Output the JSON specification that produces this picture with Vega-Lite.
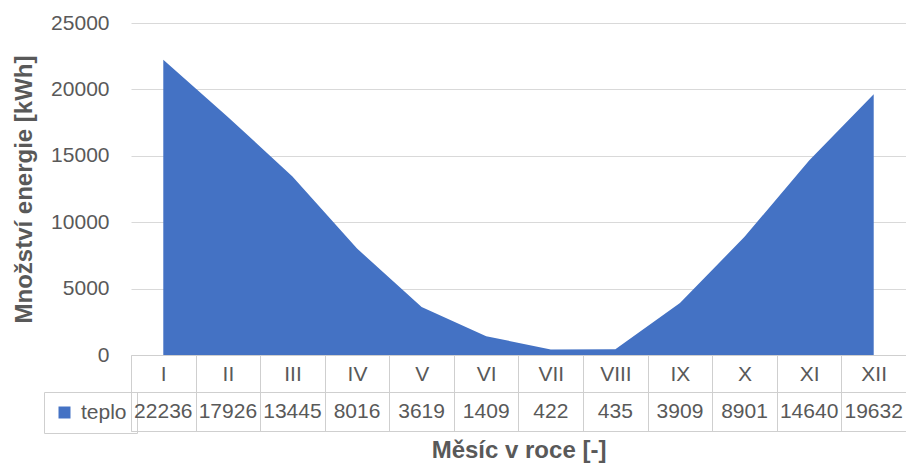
{
  "$schema": "https://vega.github.io/schema/vega-lite/v6.json",
  "padding": {"left": 12, "top": 12, "right": 0, "bottom": 0},
  "autosize": {"type": "pad"},
  "background": "white",
  "config": {"font": "Liberation Sans", "view": {"stroke": null}},
  "datasets": {
    "teplo": [
      {"mesic": "I", "teplo": 22236},
      {"mesic": "II", "teplo": 17926},
      {"mesic": "III", "teplo": 13445},
      {"mesic": "IV", "teplo": 8016},
      {"mesic": "V", "teplo": 3619},
      {"mesic": "VI", "teplo": 1409},
      {"mesic": "VII", "teplo": 422},
      {"mesic": "VIII", "teplo": 435},
      {"mesic": "IX", "teplo": 3909},
      {"mesic": "X", "teplo": 8901},
      {"mesic": "XI", "teplo": 14640},
      {"mesic": "XII", "teplo": 19632}
    ]
  },
  "bounds": "flush",
  "spacing": 37,
  "resolve": {"scale": {"color": "independent"}, "legend": {"color": "independent"}},
  "vconcat": [
    {
      "width": 775,
      "height": 332,
      "data": {"name": "teplo"},
      "mark": {"type": "area", "interpolate": "linear"},
      "encoding": {
        "x": {
          "field": "mesic",
          "type": "ordinal",
          "sort": null,
          "bandPosition": 0.5,
          "scale": {"type": "band", "paddingInner": 0, "paddingOuter": 0},
          "axis": {
            "title": null,
            "orient": "bottom",
            "grid": false,
            "domainColor": "#cfcfcf",
            "tickColor": "#cfcfcf",
            "tickSize": 37,
            "tickBand": "extent",
            "labelAngle": 0,
            "labelPadding": -18,
            "labelBaseline": "middle",
            "labelFontSize": 21,
            "labelColor": "#595959"
          }
        },
        "y": {
          "field": "teplo",
          "type": "quantitative",
          "scale": {"domain": [0, 25000]},
          "axis": {
            "title": "Množství energie [kWh]",
            "values": [0, 5000, 10000, 15000, 20000, 25000],
            "format": "d",
            "domain": false,
            "ticks": false,
            "gridColor": "#d9d9d9",
            "labelFontSize": 21,
            "labelColor": "#595959",
            "labelPadding": 22,
            "titleFontSize": 24,
            "titleFontWeight": "bold",
            "titleColor": "#595959",
            "titlePadding": 14
          }
        },
        "color": {
          "datum": "teplo",
          "type": "nominal",
          "scale": {"range": ["#4472C4"]},
          "legend": {
            "title": null,
            "orient": "none",
            "legendX": -87,
            "legendY": 369,
            "symbolType": "square",
            "symbolSize": 144,
            "symbolStrokeWidth": 0,
            "labelFontSize": 21,
            "labelColor": "#595959",
            "labelOffset": 6,
            "strokeColor": "#cfcfcf",
            "padding": 10
          }
        }
      }
    },
    {
      "width": 775,
      "height": 39,
      "data": {"name": "teplo"},
      "view": {"stroke": "#cfcfcf"},
      "mark": {"type": "text", "fontSize": 21, "color": "#595959"},
      "encoding": {
        "x": {
          "field": "mesic",
          "type": "ordinal",
          "sort": null,
          "scale": {"type": "band", "paddingInner": 0, "paddingOuter": 0},
          "axis": {
            "title": "Měsíc v roce [-]",
            "labels": false,
            "ticks": false,
            "domain": false,
            "grid": true,
            "tickBand": "extent",
            "gridColor": "#cfcfcf",
            "titleFontSize": 24,
            "titleFontWeight": "bold",
            "titleColor": "#595959",
            "titlePadding": 7
          }
        },
        "text": {"field": "teplo", "type": "quantitative", "format": "d"}
      }
    }
  ]
}
